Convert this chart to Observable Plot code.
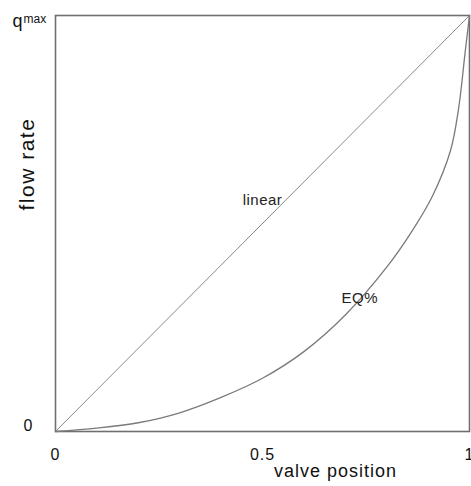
<!DOCTYPE html>
<html><head><meta charset="utf-8">
<script src="https://cdn.jsdelivr.net/npm/d3@7"></script>
<script src="https://cdn.jsdelivr.net/npm/@observablehq/plot@0.6"></script>
<style>
body{margin:0;background:#fff;}
svg{font-family:"Liberation Sans",Arial,sans-serif;}
</style>
</head><body><div id="chart"></div>
<script>
// linear characteristic
const linearX = [0, 1];
const linearY = [0, 1];
// equal-percentage characteristic
const eqX = [0, 0.1, 0.2, 0.3, 0.4, 0.5, 0.6, 0.7, 0.8, 0.86, 0.91, 0.954, 0.973, 0.99, 1];
const eqY = [0, 0.008, 0.021, 0.045, 0.082, 0.128, 0.192, 0.280, 0.395, 0.480, 0.565, 0.675, 0.772, 0.916, 1];
// tick labels
const xTicks = [0, 0.5, 1];
const xTickLabels = ["0", "0.5", "1"];
const yTickZero = [0];
const yTickTop = [1];
const yTickLabels = ["0", "q"];
// curve labels
const curveLabels = ["linear", "EQ%"];
const curveLabelX = [0.5, 0.735];
const curveLabelY = [0.555, 0.32];

const linData = linearX.map((x, i) => ({x, y: linearY[i]}));
const eqData = eqX.map((x, i) => ({x, y: eqY[i]}));
const lab = curveLabels.map((t, i) => ({t, x: curveLabelX[i], y: curveLabelY[i]}));

const chart = Plot.plot({
  width: 471, height: 486,
  marginLeft: 55, marginTop: 15, marginBottom: 55, marginRight: 2,
  x: {domain: [0, 1]},
  y: {domain: [0, 1]},
  style: {fontFamily: "Liberation Sans, Arial, sans-serif", color: "#111", background: "#fff"},
  marks: [
    Plot.frame({stroke: "#6f6f6f", strokeWidth: 1.6}),
    Plot.line(linData, {x: "x", y: "y", stroke: "#8a8a8a", strokeWidth: 1}),
    Plot.line(eqData, {x: "x", y: "y", stroke: "#7a7a7a", strokeWidth: 1.3, curve: "catmull-rom"}),
    Plot.axisX({ticks: xTicks, tickFormat: (d, i) => xTickLabels[i], tickSize: 0, tickPadding: 17, fontSize: 16, label: null}),
    Plot.axisY({ticks: yTickZero, tickFormat: () => yTickLabels[0], tickSize: 0, tickPadding: 22, fontSize: 16, label: null, dy: -6}),
    Plot.axisY({ticks: yTickTop, tickFormat: () => yTickLabels[1], tickSize: 0, tickPadding: 33, fontSize: 18, label: null, dy: 6}),
    Plot.text(["max"], {frameAnchor: "top-left", dx: -32, dy: -1, fontSize: 12, textAnchor: "start"}),
    Plot.text(["valve position"], {frameAnchor: "bottom", dx: 73, dy: 45, fontSize: 18}),
    Plot.text(["flow rate"], {frameAnchor: "left", dx: -28, dy: -13, rotate: -90, fontSize: 21}),
    Plot.text(lab, {x: "x", y: "y", text: "t", fontSize: 15, fill: "#222"})
  ]
});
d3.select(chart).selectAll("text").each(function() {
  const t = this.textContent;
  if (t === "valve position") this.style.letterSpacing = "1px";
  if (t === "flow rate") this.style.letterSpacing = "1.5px";
  if (t === "0.5" || t === "0" || t === "1") this.style.letterSpacing = "1px";
  if (t === "linear" || t === "EQ%") this.style.letterSpacing = "0.5px";
});
document.getElementById("chart").append(chart);
</script>
</body></html>
